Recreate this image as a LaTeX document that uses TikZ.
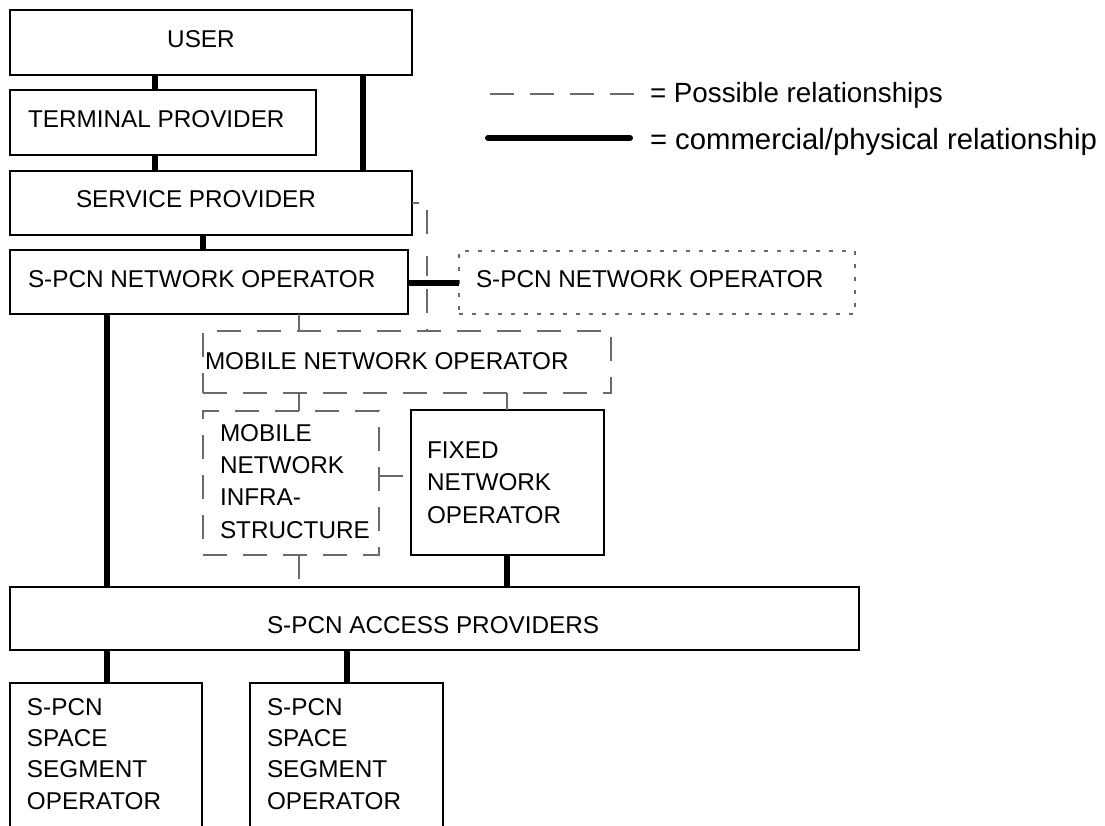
\documentclass[tikz,border=0pt]{standalone}
\usepackage{fontspec}
\setmainfont{Liberation Sans}
\definecolor{lgrey}{RGB}{105,105,105}
\begin{document}
\begin{tikzpicture}[x=1pt,y=-1pt,
  every node/.style={inner sep=0pt, outer sep=0pt, font=\fontsize{24.3}{32.3}\selectfont},
  box/.style={draw=black, line width=2.5pt, rectangle},
  dbox/.style={draw=lgrey, line width=1.3pt, rectangle, dash pattern=on 24pt off 16pt},
  dotbox/.style={draw=lgrey, line width=1.3pt, rectangle, dash pattern=on 4pt off 9pt},
  thickc/.style={line width=5.5pt, black},
  dconn/.style={draw=lgrey, line width=1.3pt, dash pattern=on 24pt off 16pt},
  txt/.style={anchor=west},
  mtxt/.style={anchor=north west, align=left},
  legtxt/.style={anchor=base west}]
\useasboundingbox (0,0) rectangle (1105,826);
\fill[white] (0,0) rectangle (1105,826);

% boxes
\node[box, minimum width=402pt, minimum height=65pt] (user) at (211,42.5) {};
\node[box, minimum width=306pt, minimum height=65pt] (term) at (163,122.5) {};
\node[box, minimum width=402pt, minimum height=64pt] (serv) at (211,203) {};
\node[box, minimum width=398pt, minimum height=64pt] (netop) at (209,282) {};
\node[dotbox, minimum width=396pt, minimum height=63pt] (netop2) at (657,282.5) {};
\node[dbox, minimum width=408pt, minimum height=62pt] (mno) at (407,362) {};
\node[dbox, minimum width=176pt, minimum height=144pt] (mni) at (291,483) {};
\node[box, minimum width=193pt, minimum height=145pt] (fno) at (507.5,482.5) {};
\node[box, minimum width=849pt, minimum height=63pt] (access) at (434.5,618.5) {};
\node[box, minimum width=192pt, minimum height=157pt] (ss1) at (106,761.5) {};
\node[box, minimum width=193pt, minimum height=157pt] (ss2) at (346.5,761.5) {};

% texts
\node (tuser) at (201,39.5) {USER};
\node[txt] (tterm) at (28,119.5) {TERMINAL PROVIDER};
\node[txt] (tserv) at (76,199.5) {SERVICE PROVIDER};
\node[txt] (tnetop) at (28,279) {S-PCN NETWORK OPERATOR};
\node[txt] (tnetop2) at (476,279) {S-PCN NETWORK OPERATOR};
\node[txt] (tmno) at (205,361) {MOBILE NETWORK OPERATOR};
\node[mtxt] (tmni) at (220,424.3) {MOBILE\\NETWORK\\INFRA-\\STRUCTURE};
\node[mtxt, font=\fontsize{24.3}{32.5}\selectfont] (tfno) at (427,441.3) {FIXED\\NETWORK\\OPERATOR};
\node[txt] (taccess) at (267,625) {S-PCN ACCESS PROVIDERS};
\node[mtxt, font=\fontsize{24.3}{31.3}\selectfont] (tss1) at (27,698.3) {S-PCN\\SPACE\\SEGMENT\\OPERATOR};
\node[mtxt, font=\fontsize{24.3}{31.3}\selectfont] (tss2) at (267,698.3) {S-PCN\\SPACE\\SEGMENT\\OPERATOR};

% helper coordinates
\coordinate (x107) at (107,0);
\coordinate (x155) at (155,0);
\coordinate (x203) at (203,0);
\coordinate (x299) at (299,0);
\coordinate (x347) at (347,0);
\coordinate (x363) at (363,0);
\coordinate (x427) at (427,0);
\coordinate (x507) at (507,0);
\coordinate (y203) at (0,203);
\coordinate (y283) at (0,283);
\coordinate (y476) at (0,476);

% thick connectors
\draw[thickc] (user.south -| x155) -- (term.north -| x155);
\draw[thickc] (term.south -| x155) -- (serv.north -| x155);
\draw[thickc] (user.south -| x363) -- (serv.north -| x363);
\draw[thickc] (serv.south -| x203) -- (netop.north -| x203);
\draw[thickc] (netop.east |- y283) -- (netop2.west |- y283);
\draw[thickc] (netop.south -| x107) -- (access.north -| x107);
\draw[thickc] (fno.south -| x507) -- (access.north -| x507);
\draw[thickc] (access.south -| x107) -- (ss1.north -| x107);
\draw[thickc] (access.south -| x347) -- (ss2.north -| x347);

% possible relationships
\draw[dconn, dash pattern=on 7pt off 15pt on 24pt off 22pt on 20pt off 13pt on 24pt off 16pt] (serv.east |- y203) -| (mno.north -| x427);
\draw[dconn] (netop.south -| x299) -- (mno.north -| x299);
\draw[dconn] (mno.south -| x299) -- (mni.north -| x299);
\draw[dconn] (mno.south -| x507) -- (fno.north -| x507);
\draw[dconn] (mni.east |- y476) -- (fno.west |- y476);
\draw[dconn] (mni.south -| x299) -- (access.north -| x299);

% legend
\coordinate (la) at (490,94);
\coordinate (lb) at (634,94);
\coordinate (lc) at (488,138);
\coordinate (ld) at (630,138);
\draw[dconn, dash pattern=on 24pt off 16pt] (la) -- (lb);
\draw[line width=6pt, line cap=round] (lc) -- (ld);
\node[legtxt, font=\fontsize{27.8}{34}\selectfont] (leg1) at (650,103) {= Possible relationships};
\node[legtxt, font=\fontsize{29.3}{34}\selectfont] (leg2) at (650,150) {= commercial/physical relationship};
\end{tikzpicture}
\end{document}
